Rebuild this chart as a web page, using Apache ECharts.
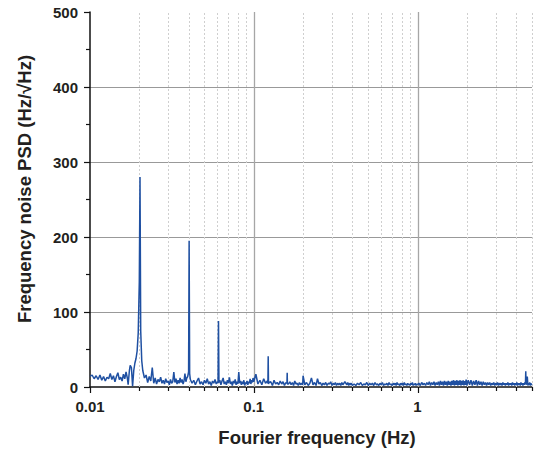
<!DOCTYPE html>
<html>
<head>
<meta charset="utf-8">
<title>Frequency noise PSD</title>
<style>html, body {margin: 0; padding: 0; background: #fff;}</style>
<script src="https://cdn.jsdelivr.net/npm/echarts@6/dist/echarts.min.js"></script>
</head>
<body>
<div id="main" style="width: 537px; height: 451px;"></div>
<script type="text/javascript">
// frequency (Hz) and PSD (Hz/sqrt(Hz)), split by band
var freqA = [0.0100,0.0103,0.0106,0.0109,0.0112,0.0115,0.0118,0.0121,0.0124,0.0127,0.0130,0.0133,0.0136,0.0139,0.0142,0.0145,0.0148,0.0151,0.0154,0.0157,0.0160,0.0163,0.0166,0.0169,0.0171,0.0174,0.0176,0.0179,0.0182,0.0185,0.0188,0.0191,0.0194,0.0197,0.0200,0.0202,0.0204];
var psdA = [14,16,11,15,10,16,9,14,8,13,11,18,10,15,7,14,19,10,13,8,17,11,20,12,3,22,29,26,1,22,32,38,48,72,140,280,75];

var freqB = [0.0207,0.0210,0.0215,0.0220,0.0225,0.0230,0.0235,0.0240,0.0245,0.0250,0.0255,0.0260,0.0265,0.0270,0.0275,0.0280,0.0285,0.0290,0.0295,0.0300,0.0305,0.0310,0.0315,0.0320,0.0325,0.0330,0.0335,0.0340,0.0345,0.0350,0.0355,0.0360,0.0365,0.0370,0.0375,0.0380,0.0385,0.0390,0.0395,0.0400,0.0403,0.0406,
  0.041,0.042,0.043,0.044,0.045,0.046,0.047,0.048,0.049,0.050,0.051,0.052,0.053,0.054,0.055,0.056,0.057,0.058,0.059,0.060,0.0605,0.0609,0.0613,
  0.062,0.063,0.064,0.065,0.066,0.067,0.068,0.069,0.070,0.071,0.072,0.073,0.074,0.075,0.076,0.077,0.078,0.079,0.080,0.081,0.082,0.083,0.084,0.085,0.086,0.087,0.088,0.089,0.090,0.091,0.092,0.093,0.094,0.095,0.096,0.097,0.098,0.099,0.100];
var psdB = [35,22,12,16,6,14,8,26,5,12,4,10,7,13,5,9,4,11,6,8,3,10,5,7,20,6,11,4,9,5,12,6,10,4,8,18,7,12,14,20,195,18,
  10,5,9,3,8,12,4,7,3,9,5,11,4,7,2,8,5,10,4,7,5,88,6,
  9,3,8,12,4,7,3,9,5,13,4,7,2,8,5,10,3,7,4,20,5,8,3,7,4,9,2,6,4,8,3,7,5,11,4,9,6,12,7];

var freqC = [0.103,0.106,0.109,0.112,0.115,0.118,0.121,0.122,0.1225,0.123,0.124,0.127,0.130,0.133,0.136,0.139,0.142,0.145,0.148,0.151,0.154,0.157,0.1595,0.160,0.1605,0.163,0.166,0.169,0.172,0.175,0.178,0.181,0.184,0.187,0.190,0.193,0.196,0.199,
  0.200,0.205,0.210,0.215,0.220,0.225,0.230,0.235,0.240,0.245,0.250,0.255,0.260,0.265,0.270,0.275,0.280,0.285,0.290,0.295,0.300,0.305,0.310,0.315,0.320,0.325,0.330,0.335,0.340,0.345,0.350,0.355,0.360,0.365,0.370,0.375,0.380,0.385,0.390,0.395,0.400,
  0.41,0.42,0.43,0.44,0.45,0.46,0.47,0.48,0.49,0.50,0.51,0.52,0.53,0.54,0.55,0.56,0.57,0.58,0.59,0.60,0.61,0.62,0.63,0.64,0.65,0.66,0.67,0.68,0.69,0.70,0.71,0.72,0.73,0.74,0.75,0.76,0.77,0.78,0.79,0.80,0.81,0.82,0.83,0.84,0.85,0.86,0.87,0.88,0.89,0.90,0.91,0.92,0.93,0.94,0.95,0.96,0.97,0.98,0.99,1.00];
var psdC = [17,4,9,3,11,5,8,5,41,4,6,7,2,9,4,6,3,8,4,7,2,6,5,19,4,4,7,3,6,2,8,4,5,2,6,3,5,3,
  15,3,6,2,5,12,3,6,2,11,4,6,2,5,3,6,2,5,4,7,2,5,3,6,2,5,3,5,2,6,3,5,7,5,3,6,2,5,3,5,2,
  4,2,5,3,6,2,4,3,6,2,5,3,5,2,6,3,4,2,5,3,6,2,4,3,5,2,6,3,4,2,5,3,5,2,6,3,4,2,5,3,5,2,6,3,4,2,5,3,4,2,5,3,6,2,4,3,5,2,4,3];

var freqD = [1.02,1.04,1.06,1.08,1.10,1.12,1.14,1.16,1.18,1.20,1.22,1.24,1.26,1.28,1.30,1.32,1.34,1.36,1.38,1.40,1.42,1.44,1.46,1.48,1.50,1.52,1.54,1.56,1.58,1.60,1.62,1.64,1.66,1.68,1.70,1.72,1.74,1.76,1.78,1.80,1.82,1.84,1.86,1.88,1.90,1.92,1.94,1.96,1.98,2.00,
  2.04,2.08,2.12,2.16,2.20,2.24,2.28,2.32,2.36,2.40,2.44,2.48,2.52,2.56,2.60,2.64,2.68,2.72,2.76,2.80,2.84,2.88,2.92,2.96,3.00,3.04,3.08,3.12,3.16,3.20,3.24,3.28,3.32,3.36,3.40,3.44,3.48,3.52,3.56,3.60,3.64,3.68,3.72,3.76,3.80,3.84,3.88,3.92,3.96,4.00,4.04,4.08,4.12,4.16,4.20,4.24,4.28,4.32,4.36,4.40,4.44,4.48,4.52,4.56,4.58,4.60,4.64,4.68,4.72,4.76,4.80,4.84,4.88,4.92,4.96,5.00];
var psdD = [5,2,6,3,5,2,6,3,7,2,6,3,7,2,6,3,7,2,8,3,7,2,8,3,7,2,8,3,7,2,8,3,9,2,8,3,9,2,8,3,9,2,8,3,9,2,8,3,10,2,
  9,3,9,2,8,3,9,2,8,3,7,2,7,3,6,2,6,3,6,2,5,3,6,2,5,3,6,2,5,3,5,2,6,3,5,2,5,3,6,2,5,3,5,2,6,3,5,2,5,3,6,2,5,3,5,2,6,3,5,2,5,3,6,4,21,3,5,14,2,5,3,6,2,5,3,4];

// axis ticks / grid positions
var majorTicks = [0.01, 0.1, 1];
var minorTicks = [0.02,0.03,0.04,0.05,0.06,0.07,0.08,0.09,0.2,0.3,0.4,0.5,0.6,0.7,0.8,0.9,2,3,4,5];

var allFreq = freqA.concat(freqB, freqC, freqD);
var allPsd = psdA.concat(psdB, psdC, psdD);
var lineData = allFreq.map(function (f, i) { return [f, allPsd[i]]; });

var gridData = [];
majorTicks.forEach(function (f, i) { gridData.push([f, i === 0 ? 0 : 2]); });
minorTicks.forEach(function (f) { gridData.push([f, 1]); });

var font = "'Liberation Sans', Arial, sans-serif";

function renderGrid(params, api) {
  var f = api.value(0), kind = api.value(1);
  var b = api.coord([f, 0]), t = api.coord([f, 500]);
  var x = Math.round(b[0]) + 0.5;
  var kids = [];
  if (kind > 0) {
    kids.push({
      type: 'line',
      shape: {x1: x, y1: b[1], x2: x, y2: t[1]},
      style: kind === 2 ? {stroke: '#a6a6a6', lineWidth: 1.3}
                        : {stroke: '#cfcfcf', lineWidth: 1, lineDash: [2, 2]}
    });
  }
  kids.push({
    type: 'line',
    shape: {x1: x, y1: b[1], x2: x, y2: b[1] + (kind === 1 ? 4 : 6)},
    style: {stroke: '#111', lineWidth: 1.2}
  });
  return {type: 'group', children: kids};
}

var chart = echarts.init(document.getElementById('main'), null, {renderer: 'svg'});
chart.setOption({
  animation: false,
  backgroundColor: '#ffffff',
  grid: {left: 90, right: 5, top: 12, bottom: 64, containLabel: false, outerBoundsMode: 'none'},
  xAxis: {
    type: 'log', logBase: 10, min: 0.01, max: 5,
    axisLine: {lineStyle: {color: '#111', width: 1.5}},
    axisTick: {show: false},
    splitLine: {show: false},
    axisLabel: {
      margin: 12, color: '#231f20', fontFamily: font, fontWeight: 'bold', fontSize: 15,
      formatter: function (v) {
        var l = Math.log10(v);
        return Math.abs(l - Math.round(l)) < 1e-6 ? String(+v.toPrecision(3)) : '';
      }
    }
  },
  yAxis: {
    type: 'value', min: 0, max: 500, interval: 100,
    axisLine: {show: true, lineStyle: {color: '#111', width: 1.5}},
    axisTick: {show: true, length: 6, lineStyle: {color: '#111', width: 1.2}},
    minorTick: {show: true, splitNumber: 2, length: 4, lineStyle: {color: '#111', width: 1.2}},
    splitLine: {show: true, showMinLine: false, showMaxLine: false, lineStyle: {color: '#999', width: 1}},
    axisLabel: {margin: 12, color: '#231f20', fontFamily: font, fontWeight: 'bold', fontSize: 15}
  },
  graphic: [
    {type: 'text', x: 317, y: 437, style: {text: 'Fourier frequency (Hz)', font: 'bold 18.5px ' + font, fill: '#231f20', align: 'center', verticalAlign: 'middle'}},
    {type: 'text', x: 24, y: 189, rotation: Math.PI / 2, style: {text: 'Frequency noise PSD (Hz/\u221AHz)', font: 'bold 18.5px ' + font, fill: '#231f20', align: 'center', verticalAlign: 'middle'}}
  ],
  series: [
    {type: 'custom', renderItem: renderGrid, data: gridData, z: 1, silent: true, clip: false},
    {type: 'line', data: lineData, showSymbol: false, z: 3,
     lineStyle: {color: '#1f50a2', width: 1.5}}
  ]
});
</script>
</body>
</html>
